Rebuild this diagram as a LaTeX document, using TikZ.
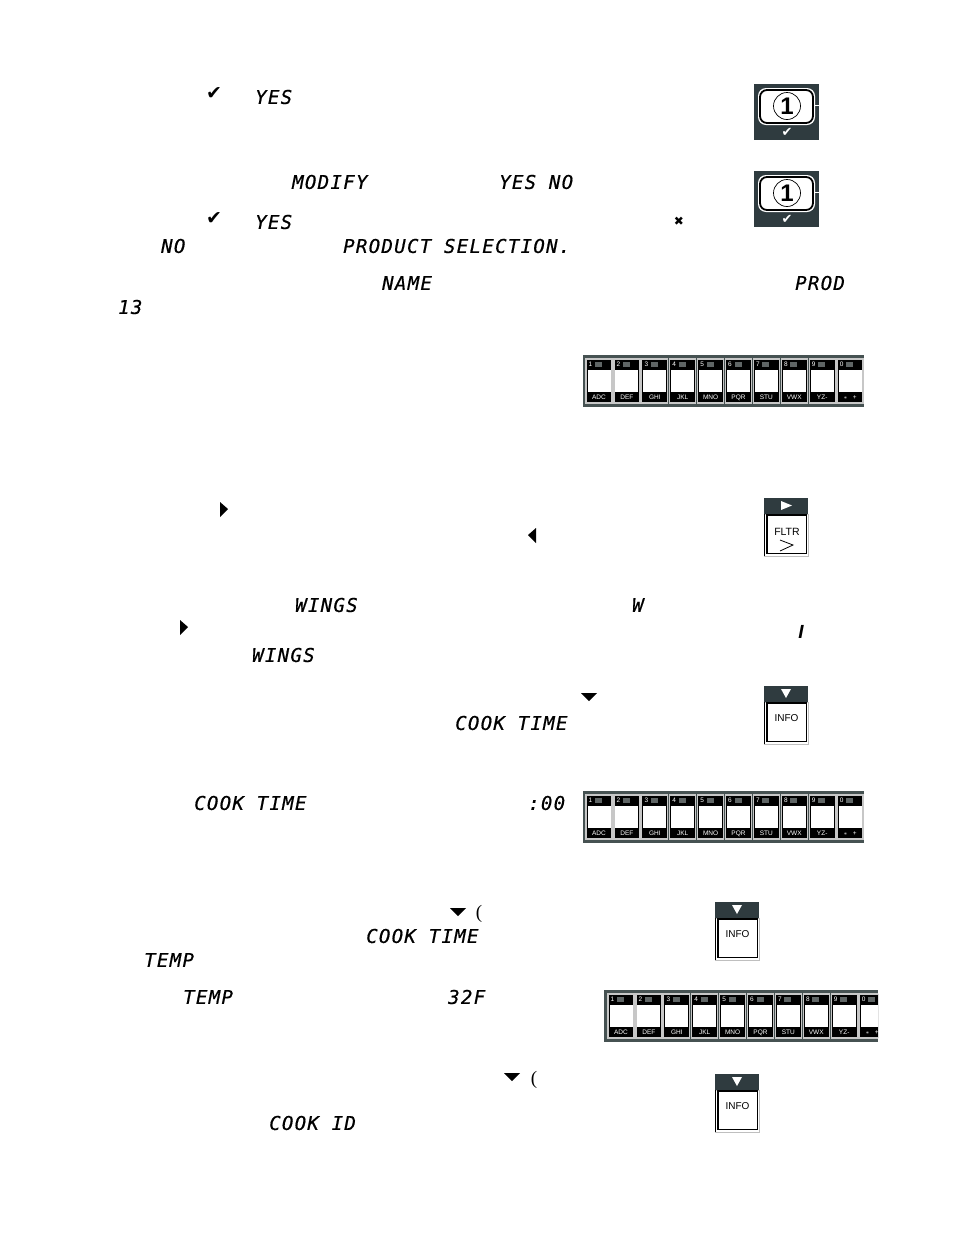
\documentclass[tikz,border=0pt]{standalone}
\usepackage{fontspec}
\setmainfont{Liberation Sans}
\newfontfamily\lcdfont{DejaVu Sans Mono}[LetterSpace=7,FakeBold=0.6]
\newfontfamily\symfont{DejaVu Sans}
\newfontfamily\parenfont{Liberation Serif}
\definecolor{paneldark}{HTML}{2F3B3F}
\definecolor{stripgrey}{HTML}{465252}
\definecolor{ledgrey}{HTML}{5F6565}
\tikzset{
  lcd/.style={anchor=west,inner sep=0pt,font=\lcdfont\itshape\fontsize{19}{19}\selectfont},
  sym/.style={inner sep=0pt,font=\symfont\fontsize{#1}{#1}\selectfont},
  tri/.style={fill=black,draw=none},
  keytext/.style={inner sep=0pt,text=white,font=\fontsize{6.5}{6.5}\selectfont},
}
% ten key strip: x, y of top left corner of the first key
\newcommand{\keystrip}[2]{
\foreach \n/\lab [count=\i from 0] in {1/ADC,2/DEF,3/GHI,4/JKL,5/MNO,6/PQR,7/STU,8/VWX,9/YZ-,0/{$\ast$\ \ \ +}} {
  \begin{scope}[shift={({#1+27.9*\i},#2)}]
  \draw[black!22,line width=1.3pt,fill=black] (0,0) rectangle (26,44);
  \fill[white] (1.5,11) rectangle (24.5,33);
  \node[keytext,anchor=west] (num\i) at (2.5,5.5) {\n};
  \fill[ledgrey] (9,2.5) rectangle (16,8);
  \node[keytext] (lab\i) at (13,38.5) {\lab};
  \end{scope}
}
}
% number one key
\newcommand{\onekey}[2]{
\begin{scope}[shift={(#1,#2)}]
\fill[paneldark] (0,0) rectangle (65,56);
\fill[white,rounded corners=8pt] (4,4) rectangle (61,41);
\draw[black,line width=1.8pt,rounded corners=7pt] (6,6) rectangle (59,39);
\draw[white,line width=.8pt] (61,21.5) -- (65,21.5);
\draw[black,line width=.7pt] (33,22) circle (13.5);
\node[inner sep=0pt,font=\bfseries\fontsize{24}{24}\selectfont] (one) at (33,22) {1};
\node[sym=13,text=white] (tick) at (33,48) {✔};
\end{scope}
}
% menu key with triangle on dark bar
\newcommand{\menukey}[3]{
\begin{scope}[shift={(#1,#2)}]
\fill[paneldark] (0,0) rectangle (44,16);
\draw[black!25,line width=.6pt,fill=white] (0,16) rectangle (44,58);
\draw[black,line width=.8pt] (0,16) -- (0,58);
\draw[black,line width=1.3pt] (3,17) rectangle (42.5,55.5);
#3
\end{scope}
}
\newcommand{\downtri}{\fill[white] (17,3) -- (27,3) -- (22,12) -- cycle;
\node[inner sep=0pt,font=\fontsize{10}{10}\selectfont] (info) at (22.5,32) {INFO};}
\begin{document}
\begin{tikzpicture}[x=1pt,y=-1pt]
\useasboundingbox (0,0) rectangle (954,1235);
% first block
\node[sym=19] (tick1) at (214,94) {✔};
\node[lcd] (yes1) at (255,97) {YES};
\onekey{754}{84}
\node[lcd] (modify) at (292,182) {MODIFY};
\node[lcd] (yesno) at (499,182) {YES NO};
\onekey{754}{171}
\node[sym=19] (tick2) at (214,219) {✔};
\node[lcd] (yes2) at (255,222) {YES};
\node[sym=12] (cross) at (679,221) {✖};
\node[lcd] (no) at (161,246) {NO};
\node[lcd] (prodsel) at (343,246) {PRODUCT SELECTION.};
\node[lcd] (name) at (382,283) {NAME};
\node[lcd] (prod) at (795,283) {PROD};
\node[lcd] (thirteen) at (118,307) {13};
% first keys
\fill[stripgrey] (583,355) rectangle (864,407);
\keystrip{586}{359}
% name entry
\fill[tri] (220,502) -- (228,509) -- (220,517) -- cycle;
\fill[tri] (536,528) -- (528,535) -- (536,543) -- cycle;
\menukey{764}{498}{\fill[white] (17,3) -- (17,12) -- (28,7.5) -- cycle;
\node[inner sep=0pt,font=\fontsize{10.5}{10.5}\selectfont] (fltr) at (23,33.5) {FLTR};
\draw[black,line width=.8pt] (16,42) -- (29,47) -- (16,53);}
\node[lcd] (wings1) at (295,605) {WINGS};
\node[lcd] (w) at (632,605) {W};
\fill[tri] (180,620) -- (188,627) -- (180,635) -- cycle;
\node[inner sep=0pt,font=\itshape\bfseries\fontsize{19}{19}\selectfont] (i) at (801,632) {I};
\node[lcd] (wings2) at (252,655) {WINGS};
% cook time
\fill[tri] (581,693) -- (597,693) -- (589,701) -- cycle;
\menukey{764}{686}{\downtri}
\node[lcd] (cook1) at (455,723) {COOK TIME};
\node[lcd] (cook2) at (194,803) {COOK TIME};
\node[lcd] (zero) at (528,803) {:00};
\fill[stripgrey] (583,791) rectangle (864,843);
\keystrip{586}{795}
% temp
\fill[tri] (450,908) -- (466,908) -- (458,916) -- cycle;
\node[inner sep=0pt,font=\parenfont\fontsize{19}{19}\selectfont] (paren1) at (479,914) {(};
\menukey{715}{902}{\downtri}
\node[lcd] (cook3) at (366,936) {COOK TIME};
\node[lcd] (temp1) at (144,960) {TEMP};
\node[lcd] (temp2) at (183,997) {TEMP};
\node[lcd] (degf) at (448,997) {32F};
\begin{scope}
\clip (604,990) rectangle (878,1042);
\fill[stripgrey] (604,990) rectangle (878,1042);
\keystrip{608}{994}
\end{scope}
% cook id
\fill[tri] (504,1073) -- (520,1073) -- (512,1081) -- cycle;
\node[inner sep=0pt,font=\parenfont\fontsize{19}{19}\selectfont] (paren2) at (534,1080) {(};
\menukey{715}{1074}{\downtri}
\node[lcd] (cookid) at (269,1123) {COOK ID};
\end{tikzpicture}
\end{document}
